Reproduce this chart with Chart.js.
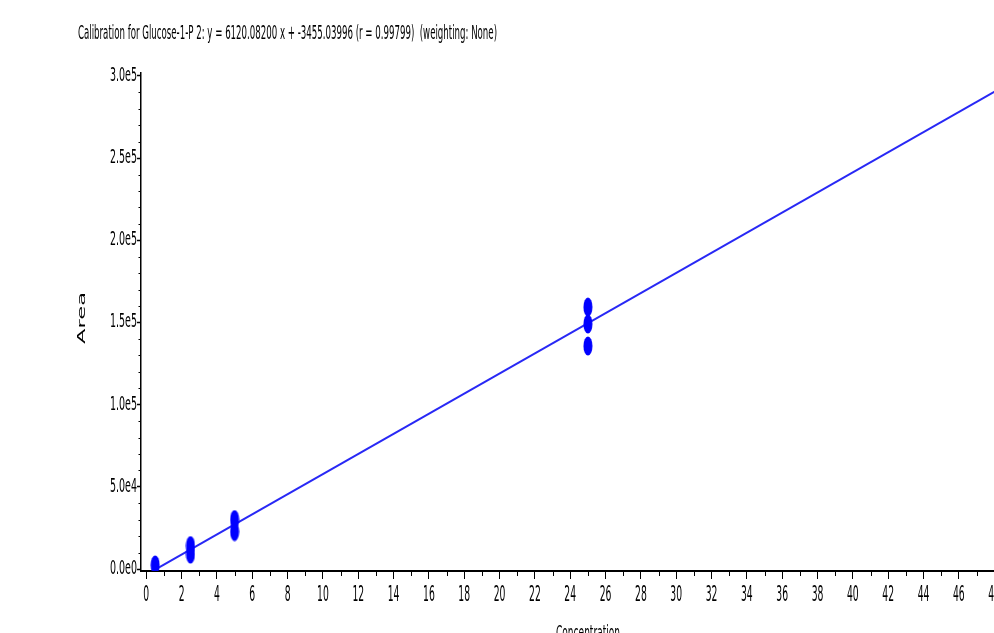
<!DOCTYPE html>
<html>
<head>
<meta charset="utf-8">
<script src="https://cdn.jsdelivr.net/npm/chart.js@4.4.1/dist/chart.umd.min.js"></script>
<style>
  html, body { margin: 0; padding: 0; background: #fff; overflow: hidden; }
  #wrap { position: absolute; left: 0; top: 0; width: 994px; height: 633px; overflow: hidden; }
  canvas { position: absolute; left: 0; top: 0; }
</style>
</head>
<body>
<div id="wrap"><canvas id="cal" width="1030" height="650"></canvas></div>
<script>
const titleText = 'Calibration for Glucose-1-P 2: y = 6120.08200 x + -3455.03996 (r = 0.99799)  (weighting: None)';
const slope = 6120.082;
const intercept = -3455.03996;

// standards (concentration, area)
const concentrations = [0.5, 2.5, 2.5, 5, 5, 25, 25, 25];
const areas = [2500, 9100, 14300, 22800, 30100, 135700, 149100, 159400];

const xTicks = [0, 2, 4, 6, 8, 10, 12, 14, 16, 18, 20, 22, 24, 26, 28, 30, 32, 34, 36, 38, 40, 42, 44, 46, 48];
const yTicks = [0, 50000, 100000, 150000, 200000, 250000, 300000];

const narrow = '"Liberation Sans Narrow", "DejaVu Sans Condensed", "Liberation Sans", sans-serif';
const blue = 'rgb(0,0,255)';

// tall ellipse marker
const marker = document.createElement('canvas');
marker.width = 10; marker.height = 20;
{
  const m = marker.getContext('2d');
  m.fillStyle = blue;
  m.beginPath();
  m.ellipse(5, 10, 4.5, 9.5, 0, 0, Math.PI * 2);
  m.fill();
}

const fitX = [0.5, 48.5];
const fitLine = fitX.map(x => ({ x: x, y: slope * x + intercept }));
const points = concentrations.map((c, i) => ({ x: c, y: areas[i] }));

// text squeezed sideways, like the original's tall narrow lettering
function tallText(ctx, text, x, y, size, sx, align) {
  ctx.save();
  ctx.font = size + 'px "DejaVu Sans", sans-serif';
  ctx.textBaseline = 'middle';
  ctx.textAlign = align;
  ctx.translate(x, y);
  ctx.scale(sx, 1);
  ctx.fillText(text, 0, 0);
  ctx.restore();
}

const extras = {
  id: 'extras',
  afterDraw(chart) {
    const ctx = chart.ctx;
    const xs = chart.scales.x, ys = chart.scales.y;
    const area = chart.chartArea;
    ctx.save();
    // minor ticks
    ctx.strokeStyle = '#000';
    ctx.lineWidth = 1;
    ctx.beginPath();
    for (let v = 1; v <= 48; v += 2) {
      const px = Math.round(xs.getPixelForValue(v)) + 0.5;
      ctx.moveTo(px, area.bottom);
      ctx.lineTo(px, area.bottom + 5);
    }
    for (let v = 10000; v < 300000; v += 10000) {
      if (v % 50000 === 0) continue;
      const py = Math.round(ys.getPixelForValue(v)) + 0.5;
      ctx.moveTo(area.left, py);
      ctx.lineTo(area.left - 2.5, py);
    }
    ctx.stroke();

    ctx.fillStyle = '#000';
    // tick labels
    xTicks.forEach(v => tallText(ctx, String(v), xs.getPixelForValue(v), 595, 22, 0.42, 'center'));
    yTicks.forEach(v => tallText(ctx, v.toExponential(1).replace('e+', 'e'), area.left - 4, ys.getPixelForValue(v), 19, 0.5, 'right'));

    // title
    ctx.font = '20px ' + narrow;
    ctx.textBaseline = 'alphabetic';
    ctx.textAlign = 'left';
    ctx.fillText(titleText, 78, 39, 419);
    // x axis title
    ctx.textAlign = 'center';
    ctx.font = '19px ' + narrow;
    ctx.fillText('Concentration', 588, 639, 64);
    // y axis title, stretched along its baseline
    ctx.translate(82, 318);
    ctx.rotate(-Math.PI / 2);
    ctx.font = '11px "DejaVu Sans", sans-serif';
    const w = ctx.measureText('Area').width;
    ctx.scale(52 / w, 1);
    ctx.textBaseline = 'middle';
    ctx.fillText('Area', 0, 0);
    ctx.restore();
  }
};

new Chart(document.getElementById('cal'), {
  type: 'scatter',
  data: {
    datasets: [{
      label: 'fit',
      type: 'line',
      data: fitLine,
      borderColor: 'rgb(40,40,245)',
      borderWidth: 2,
      pointRadius: 0,
      fill: false,
      order: 2
    }, {
      label: 'standards',
      data: points,
      pointStyle: marker,
      pointRadius: 5,
      order: 1
    }]
  },
  options: {
    responsive: false,
    animation: false,
    layout: { padding: { left: 0, top: 73, right: 27, bottom: 0 } },
    plugins: { legend: { display: false }, tooltip: { enabled: false }, title: { display: false } },
    scales: {
      x: {
        type: 'linear',
        min: -0.3,
        max: 48.5,
        afterFit(scale) { scale.height = 79; },
        afterBuildTicks(scale) { scale.ticks = xTicks.map(v => ({ value: v })); },
        ticks: { display: false, includeBounds: false },
        grid: { drawOnChartArea: false, tickLength: 8, tickColor: '#000', tickWidth: 1 },
        border: { color: '#000', width: 2 }
      },
      y: {
        type: 'linear',
        min: -1200,
        max: 301800,
        afterFit(scale) { scale.width = 141; },
        afterBuildTicks(scale) { scale.ticks = yTicks.map(v => ({ value: v })); },
        ticks: { display: false, includeBounds: false },
        grid: { drawOnChartArea: false, tickLength: 4, tickColor: '#000', tickWidth: 1.5 },
        border: { color: '#000', width: 1.5 }
      }
    }
  },
  plugins: [extras]
});
</script>
</body>
</html>
